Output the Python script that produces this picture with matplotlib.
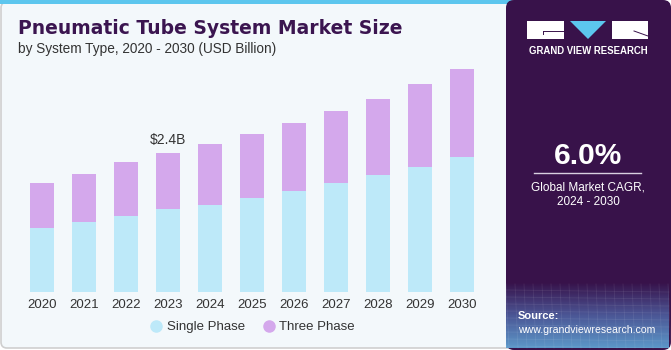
import numpy as np
import matplotlib.pyplot as plt
from matplotlib.patches import FancyBboxPatch, Rectangle, Polygon
from matplotlib.lines import Line2D
from matplotlib.colors import LinearSegmentedColormap

# Data (USD Billion)
years = ["2020", "2021", "2022", "2023", "2024", "2025", "2026", "2027", "2028", "2029", "2030"]
single_phase = [1.10, 1.20, 1.32, 1.43, 1.51, 1.63, 1.74, 1.88, 2.02, 2.16, 2.33]
three_phase = [0.78, 0.83, 0.93, 0.97, 1.04, 1.10, 1.18, 1.24, 1.32, 1.43, 1.52]

title = "Pneumatic Tube System Market Size"
subtitle = "by System Type, 2020 - 2030 (USD Billion)"
cagr = "6.0%"

W, H = 671, 350
fig = plt.figure(figsize=(W / 100, H / 100), dpi=100)
fig.patch.set_facecolor("white")
plt.rcParams["font.family"] = ["Liberation Sans", "DejaVu Sans"]

# background layer in pixel coordinates
bg = fig.add_axes([0, 0, 1, 1])
bg.set_xlim(0, W)
bg.set_ylim(H, 0)
bg.axis("off")

# left panel
bg.add_patch(FancyBboxPatch((1, 2), 512, 346, boxstyle="round,pad=0,rounding_size=6",
                            facecolor="#F3F8FB", edgecolor="#CFCFCF", lw=1.2))
bg.add_patch(Rectangle((0, 0), 512, 4, facecolor="#5CC6EE", edgecolor="none"))

# right panel
bg.add_patch(FancyBboxPatch((506, 0), 165, 350, boxstyle="round,pad=0,rounding_size=8",
                            facecolor="#38124A", edgecolor="none"))
grad = np.linspace(0, 1, 100)[:, None]
cm = LinearSegmentedColormap.from_list("g", ["#38124A", "#4D5A9A", "#5E9FD0"])
bg.imshow(grad, cmap=cm, extent=(506, 669, 348, 282), aspect="auto", alpha=0.95, zorder=1)
# faint grid pattern over the gradient
for yy in np.arange(290, 348, 7):
    bg.plot([506, 669], [yy, yy + 2], color="white", alpha=0.08, lw=0.6, zorder=2)
for xx in np.arange(506, 669, 9):
    bg.plot([xx, xx + 3], [284, 348], color="white", alpha=0.08, lw=0.6, zorder=2)

# logo
bg.add_patch(Rectangle((527, 21), 37, 18, facecolor="white", edgecolor="none", zorder=3))
bg.add_patch(Polygon([(570, 21), (606, 21), (588, 39)], closed=True, facecolor="#5CC6EE",
                     edgecolor="none", zorder=3))
bg.add_patch(Rectangle((612, 21), 36, 18, facecolor="white", edgecolor="none", zorder=3))
bg.plot([543, 563], [31, 31], color="#38124A", lw=0.7, zorder=4)
bg.plot([543, 543], [31, 34], color="#38124A", lw=0.7, zorder=4)
bg.plot([634, 648], [31, 36], color="#38124A", lw=0.7, zorder=4)
bg.text(588, 51, "GRAND VIEW RESEARCH", color="white", fontsize=6.9, fontweight="bold",
        ha="center", va="center", zorder=4)

bg.text(588, 156, cagr, color="white", fontsize=21.5, fontweight="bold", ha="center", va="center")
bg.plot([534, 641], [173, 173], color="#D8D0E0", lw=1)
bg.text(588, 188, "Global Market CAGR,", color="white", fontsize=8.5, ha="center", va="center")
bg.text(588, 202, "2024 - 2030", color="white", fontsize=8.5, ha="center", va="center")
bg.text(518, 316, "Source:", color="white", fontsize=8, fontweight="bold", ha="left", va="center", zorder=4)
bg.text(518, 330, "www.grandviewresearch.com", color="white", fontsize=7.6, ha="left", va="center", zorder=4)

# titles
bg.text(18, 28, title, color="#3B1550", fontsize=13.5, fontweight="bold", ha="left", va="center",
        family=["DejaVu Sans"])
bg.text(18, 49, subtitle, color="#333333", fontsize=9.8, ha="left", va="center")

# bar chart
ax = fig.add_axes([21 / W, (H - 292) / H, 462 / W, 231.7 / H])
ax.set_facecolor("none")
x = np.arange(len(years))
ax.bar(x, single_phase, width=0.55, color="#BDE9F9", edgecolor="none", label="Single Phase")
ax.bar(x, three_phase, width=0.55, bottom=single_phase, color="#D4A8EC", edgecolor="none",
       label="Three Phase")
ax.set_xlim(-0.5, len(years) - 0.5)
ax.set_ylim(0, 4.0)
ax.set_xticks(x)
ax.set_xticklabels(years, fontsize=9.5, color="#333333")
ax.tick_params(axis="x", length=0, pad=5)
ax.set_yticks([])
for s in ax.spines.values():
    s.set_visible(False)

i23 = years.index("2023")
total23 = single_phase[i23] + three_phase[i23]
ax.text(i23, total23 + 0.1, "$%.1fB" % total23, ha="center", va="bottom", fontsize=10, color="#333333")

handles = [Line2D([], [], marker="o", ls="none", markersize=8, color="#BDE9F9"),
           Line2D([], [], marker="o", ls="none", markersize=8, color="#D4A8EC")]
fig.legend(handles, ["Single Phase", "Three Phase"], loc="center", ncol=2,
           bbox_to_anchor=(253 / W, 1 - 327 / H), frameon=False, fontsize=9.5,
           handlelength=0.8, handletextpad=0.4, columnspacing=1.4, labelcolor="#333333")

fig.savefig("out.png", dpi=100, facecolor=fig.get_facecolor())
